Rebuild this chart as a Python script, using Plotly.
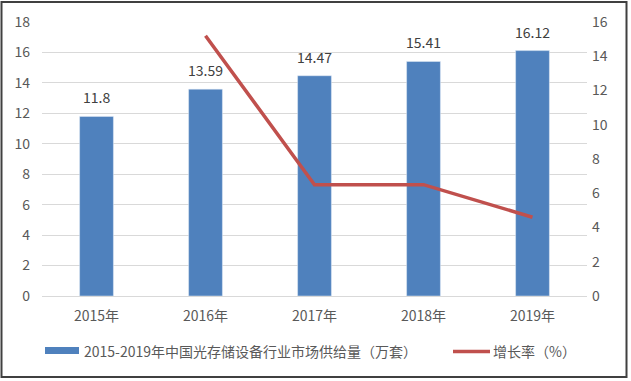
import plotly.graph_objects as go

years = ["2015年", "2016年", "2017年", "2018年", "2019年"]
supply = [11.8, 13.59, 14.47, 15.41, 16.12]
growth_years = ["2016年", "2017年", "2018年", "2019年"]
growth = [15.2, 6.5, 6.5, 4.6]
left_ticks = list(range(0, 19, 2))
right_ticks = list(range(0, 17, 2))
bar_name = "2015-2019年中国光存储设备行业市场供给量（万套）"
line_name = "增长率（%）"

W, H = 631, 381
L, R, T, B = 42, 44, 22, 85
pw, ph = W - L - R, H - T - B

font = "'Noto Sans CJK SC', sans-serif"
grey = "#595959"
bar_color = "#4F81BD"
line_color = "#C0504D"

def px_x(p):
    return (p - L) / pw

def px_y(p):
    return (H - B - p) / ph

fig = go.Figure()
fig.add_trace(go.Bar(
    x=years, y=supply, name=bar_name,
    marker=dict(color=bar_color), width=0.31,
    showlegend=False,
))
fig.add_trace(go.Scatter(
    x=growth_years, y=growth, name=line_name, yaxis="y2",
    mode="lines", line=dict(color=line_color, width=3.5), showlegend=False,
))

shapes = [
    # custom legend: bar symbol
    dict(type="rect", xref="paper", yref="paper",
         x0=px_x(45), x1=px_x(79), y0=px_y(354), y1=px_y(347),
         line=dict(width=0), fillcolor=bar_color),
    # custom legend: line symbol
    dict(type="line", xref="paper", yref="paper",
         x0=px_x(453), x1=px_x(490), y0=px_y(351.5), y1=px_y(351.5),
         line=dict(color=line_color, width=3.5)),
    # outer border
    dict(type="rect", xref="paper", yref="paper",
         x0=px_x(1.5), x1=px_x(626.5), y0=px_y(377), y1=px_y(2),
         line=dict(color="#404040", width=2), fillcolor="rgba(0,0,0,0)",
         layer="above"),
]
annotations = [
    dict(x=yr, y=v, xref="x", yref="y", text=str(v), showarrow=False,
         yanchor="middle", yshift=19,
         font=dict(size=14, color="#404040", family=font))
    for yr, v in zip(years, supply)
] + [
    dict(xref="paper", yref="paper", x=px_x(82), y=px_y(351), text=bar_name,
         showarrow=False, xanchor="left", yanchor="middle",
         font=dict(size=14, color=grey, family=font)),
    dict(xref="paper", yref="paper", x=px_x(491), y=px_y(351), text=line_name,
         showarrow=False, xanchor="left", yanchor="middle",
         font=dict(size=14, color=grey, family=font)),
]

fig.update_layout(
    width=W, height=H,
    margin=dict(l=L, r=R, t=T, b=B),
    paper_bgcolor="white", plot_bgcolor="white",
    font=dict(family=font, size=14, color=grey),
    showlegend=False,
    xaxis=dict(showgrid=False, showline=True, linecolor="#D9D9D9",
               tickfont=dict(size=14, color=grey), ticks="",
               ticklabelstandoff=7),
    yaxis=dict(range=[0, 18], tickvals=left_ticks, showgrid=True,
               gridcolor="#D9D9D9", gridwidth=1, zeroline=False,
               tickfont=dict(size=14, color=grey), ticklabelstandoff=11),
    yaxis2=dict(range=[0, 16], tickvals=right_ticks, overlaying="y",
                side="right", showgrid=False, zeroline=False,
                tickfont=dict(size=14, color=grey), ticklabelstandoff=4),
    shapes=shapes,
    annotations=annotations,
)

fig.write_html("out.html")
